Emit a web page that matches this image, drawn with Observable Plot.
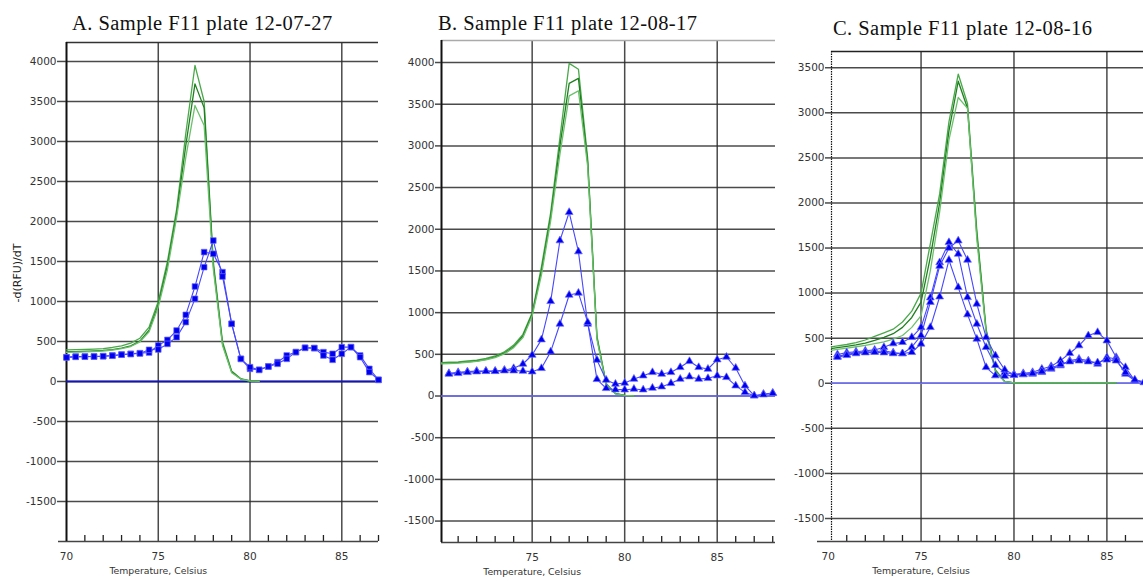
<!DOCTYPE html>
<html><head><meta charset="utf-8">
<script src="https://cdn.jsdelivr.net/npm/d3@7"></script>
<script src="https://cdn.jsdelivr.net/npm/@observablehq/plot@0.6"></script>
<style>
body{margin:0;background:#fff;}
#root{position:relative;width:1143px;height:581px;overflow:hidden;background:#fff;}
.panel{position:absolute;top:0;}
.panel svg{max-width:none !important;}
.title{position:absolute;font-family:"Liberation Serif",serif;font-size:20.5px;letter-spacing:0.45px;line-height:20px;color:#111;white-space:nowrap;}
.ylab{position:absolute;font-family:"DejaVu Sans",sans-serif;font-size:11px;color:#222;white-space:nowrap;transform:translate(-50%,-50%) rotate(-90deg);}
</style></head>
<body><div id="root"></div>
<script>
// ---------- Panel A: Sample F11 plate 12-07-27 ----------
const titleA = "A. Sample F11 plate 12-07-27";
const aGreenT = [70,70.5,71,71.5,72,72.5,73,73.5,74,74.5,75,75.5,76,76.5,77,77.5,78,78.5,79,79.5,80,80.5];
const aGreen1 = [395,397,400,405,412,425,445,480,540,680,1000,1500,2150,3100,3950,3500,1500,500,130,35,8,2];
const aGreen2 = [372,374,377,382,388,398,418,445,505,640,960,1450,2100,2950,3720,3420,1450,470,120,30,6,2];
const aGreen3 = [365,367,370,375,381,391,410,437,495,620,930,1400,2050,2800,3450,3200,1400,450,110,30,6,2];
const aBlueT = [70,70.5,71,71.5,72,72.5,73,73.5,74,74.5,75,75.5,76,76.5,77,77.5,78,78.5,79,79.5,80,80.5,81,81.5,82,82.5,83,83.5,84,84.5,85,85.5,86,86.5,87];
const aBlue1 = [304,312,312,312,317,325,337,346,354,362,450,520,637,833,1187,1617,1596,1367,721,283,158,146,187,242,325,367,421,417,367,346,429,429,325,158,21];
const aBlue2 = [300,308,310,312,315,322,335,343,350,396,400,470,554,742,1033,1429,1762,1312,721,283,179,146,187,221,283,367,421,417,325,271,346,429,304,117,21];
const aYTicks = [-1500,-1000,-500,0,500,1000,1500,2000,2500,3000,3500,4000];
const aXLabels = [70,75,80,85];
const aXMinor = [71,72,73,74,76,77,78,79,81,82,83,84,86,87];

// ---------- Panel B: Sample F11 plate 12-08-17 ----------
const titleB = "B. Sample F11 plate 12-08-17";
const bGreenT = [70,70.5,71,71.5,72,72.5,73,73.5,74,74.5,75,75.5,76,76.5,77,77.5,78,78.5,79,79.5,80,80.5];
const bGreen1 = [400,405,410,420,430,450,480,530,610,740,1000,1550,2200,3100,3990,3920,2850,720,150,30,8,2];
const bGreen2 = [390,395,400,410,420,440,470,515,590,720,980,1500,2150,3000,3750,3810,2800,700,140,28,8,2];
const bGreen3 = [385,390,395,405,415,435,460,505,580,700,960,1450,2100,2900,3600,3660,2750,680,135,26,8,2];
const bBlueT = [70.5,71,71.5,72,72.5,73,73.5,74,74.5,75,75.5,76,76.5,77,77.5,78,78.5,79,79.5,80,80.5,81,81.5,82,82.5,83,83.5,84,84.5,85,85.5,86,86.5,87,87.5,88];
const bBlue1 = [272,284,292,300,300,300,312,332,384,492,676,1136,1864,2204,1732,864,432,192,144,156,204,244,284,264,284,344,416,344,324,436,468,336,124,4,24,36];
const bBlue2 = [264,272,284,292,296,296,304,304,300,292,332,532,864,1212,1236,884,200,92,76,76,84,76,96,112,152,204,232,204,212,244,224,124,44,4,16,32];
const bYTicks = [-1500,-1000,-500,0,500,1000,1500,2000,2500,3000,3500,4000];
const bXLabels = [75,80,85];
const bXMinor = [71,72,73,74,76,77,78,79,81,82,83,84,86,87,88];

// ---------- Panel C: Sample F11 plate 12-08-16 ----------
const titleC = "C. Sample F11 plate 12-08-16";
const cGreenT = [70,70.5,71,71.5,72,72.5,73,73.5,74,74.5,75,75.5,76,76.5,77,77.5,78,78.5,79,79.5,80,80.5,81,81.5,82,82.5,83,83.5,84,84.5,85,85.5];
const cGreen1 = [400,415,430,450,480,520,560,600,680,800,1000,1550,2100,2900,3430,3100,1700,600,150,20,5,5,5,5,5,5,5,5,5,5,5,5];
const cGreen2 = [380,395,410,425,445,475,510,550,620,730,900,1400,2000,2800,3350,3050,1650,580,140,20,5,5,5,5,5,5,5,5,5,5,5,5];
const cGreen3 = [360,375,390,405,420,440,460,490,530,620,750,1250,1900,2700,3170,3050,1600,560,130,20,5,5,5,5,5,5,5,5,5,5,5,5];
const cBlueT = [70.5,71,71.5,72,72.5,73,73.5,74,74.5,75,75.5,76,76.5,77,77.5,78,78.5,79,79.5,80,80.5,81,81.5,82,82.5,83,83.5,84,84.5,85,85.5,86,86.5,87];
const cBlue1 = [320,340,350,360,370,400,440,455,510,620,950,1340,1563,1434,953,658,400,200,120,100,110,122,159,188,251,333,418,529,565,473,288,177,30,10];
const cBlue2 = [300,320,340,345,350,360,340,330,400,530,900,1300,1500,1582,1368,880,510,307,150,96,96,103,122,159,196,251,270,251,214,288,270,103,30,10];
const cBlue3 = [290,310,330,340,345,340,330,330,344,437,621,960,1367,1064,762,492,177,85,80,90,100,110,130,170,210,240,250,240,230,260,250,120,40,15];
const cYTicks = [-1500,-1000,-500,0,500,1000,1500,2000,2500,3000,3500];
const cXLabels = [70,75,80,85];
const cXMinor = [71,72,73,74,76,77,78,79,81,82,83,84,86,87];

const xGridTicks = [75,80,85];
const xTitle = "Temperature, Celsius";
const xTitleAt = 75;
const yTitle = "-d(RFU)/dT";
const greenColors = ["#4aa84a", "#1f7f1f", "#6cc06c"];

function series(ts, vs, s) { return ts.map((t, i) => ({t, v: vs[i], s})); }

function makePanel(cfg) {
  const H = cfg.height - cfg.marginTop - cfg.marginBottom;
  const marks = [
    Plot.gridY(cfg.yTicks, {stroke: "#2a2a2a", strokeOpacity: 0.85, strokeWidth: 1.5}),
    Plot.gridX(xGridTicks, {stroke: "#2a2a2a", strokeOpacity: 0.85, strokeWidth: 1.5}),
    Plot.tickX(cfg.xMinor, {x: d => d, stroke: "#222", strokeWidth: 1.3, insetTop: H - 6}),
    Plot.ruleY([cfg.yDomain[0]], {stroke: "#444", strokeWidth: 1.6, insetLeft: cfg.bottomExt}),
    Plot.ruleY([cfg.yDomain[1]], {stroke: cfg.topColor, strokeWidth: 1.5}),
    Plot.ruleX([cfg.xDomain[0]], {stroke: "#111", strokeWidth: cfg.leftW, strokeDasharray: cfg.leftDash}),
    Plot.axisY(cfg.yTicks, {tickSize: cfg.yTickSize, tickPadding: 1, tickFormat: d => String(d), stroke: "#2a2a2a", strokeOpacity: 0.85, strokeWidth: 1.5, label: null}),
    Plot.axisX(cfg.xLabels, {tickSize: 0, tickPadding: 11, tickFormat: d => String(d), label: null}),
    Plot.text([xTitle], {x: [xTitleAt], text: d => d, frameAnchor: "bottom", dy: 32, fontSize: 9.3}),
    Plot.ruleY([0], {stroke: cfg.zeroColor, strokeWidth: cfg.zeroW})
  ];
  cfg.green.forEach((vs, i) => {
    marks.push(Plot.line(series(cfg.greenT, vs, "g" + i), {x: "t", y: "v", stroke: greenColors[i], strokeWidth: 1.3, clip: true}));
  });
  cfg.blue.forEach((vs, i) => {
    const d = series(cfg.blueT, vs, "b" + i);
    marks.push(Plot.line(d, {x: "t", y: "v", stroke: "#4646ff", strokeWidth: 1.1, clip: true}));
    marks.push(Plot.dot(d, {x: "t", y: "v", symbol: cfg.symbol, r: cfg.r, fill: "#0000ee", stroke: "#6b6bff", strokeWidth: 0.7}));
  });
  return Plot.plot({
    width: cfg.width, height: cfg.height,
    marginLeft: cfg.marginLeft, marginRight: cfg.marginRight,
    marginTop: cfg.marginTop, marginBottom: cfg.marginBottom,
    x: {domain: cfg.xDomain, axis: null},
    y: {domain: cfg.yDomain, axis: null},
    style: {fontFamily: "DejaVu Sans", fontSize: "10.5px", color: "#333", background: "transparent", overflow: "visible"},
    marks
  });
}

const root = document.getElementById("root");
function place(node, left) {
  const div = document.createElement("div");
  div.className = "panel";
  div.style.left = left + "px";
  div.appendChild(node);
  root.appendChild(div);
}
function addText(cls, text, left, top) {
  const d = document.createElement("div");
  d.className = cls; d.textContent = text;
  d.style.left = left + "px"; d.style.top = top + "px";
  root.appendChild(d);
}

place(makePanel({
  width: 385, height: 581, marginLeft: 66, marginRight: 7, marginTop: 42, marginBottom: 40,
  xDomain: [70, 87], yDomain: [-2000, 4237],
  yTicks: aYTicks, xLabels: aXLabels, xMinor: aXMinor, yTickSize: 9, bottomExt: -8,
  topColor: "#333", leftW: 2, leftDash: null, zeroColor: "#1414b4", zeroW: 2.2,
  greenT: aGreenT, green: [aGreen1, aGreen2, aGreen3],
  blueT: aBlueT, blue: [aBlue1, aBlue2], symbol: "square", r: 3.2
}), 0);

place(makePanel({
  width: 395, height: 581, marginLeft: 56, marginRight: 5, marginTop: 40, marginBottom: 39,
  xDomain: [70.1, 88.15], yDomain: [-1757, 4264],
  yTicks: bYTicks, xLabels: bXLabels, xMinor: bXMinor, yTickSize: 6, bottomExt: 0,
  topColor: "#aaa", leftW: 2, leftDash: null, zeroColor: "#6d6dff", zeroW: 1.5,
  greenT: bGreenT, green: [bGreen1, bGreen2, bGreen3],
  blueT: bBlueT, blue: [bBlue1, bBlue2], symbol: "triangle", r: 2.9
}), 385);

place(makePanel({
  width: 363, height: 581, marginLeft: 51, marginRight: 0, marginTop: 51, marginBottom: 40,
  xDomain: [70.18, 86.97], yDomain: [-1755, 3680],
  yTicks: cYTicks, xLabels: cXLabels, xMinor: cXMinor, yTickSize: 6, bottomExt: -14,
  topColor: "#222", leftW: 1.2, leftDash: "1.5,1", zeroColor: "#6d6dff", zeroW: 1.5,
  greenT: cGreenT, green: [cGreen1, cGreen2, cGreen3],
  blueT: cBlueT, blue: [cBlue1, cBlue2, cBlue3], symbol: "triangle", r: 2.9
}), 780);

addText("title", titleA, 72, 13);
addText("title", titleB, 438, 13);
addText("title", titleC, 833, 18);
addText("ylab", yTitle, 17, 273);
</script>
</body></html>
